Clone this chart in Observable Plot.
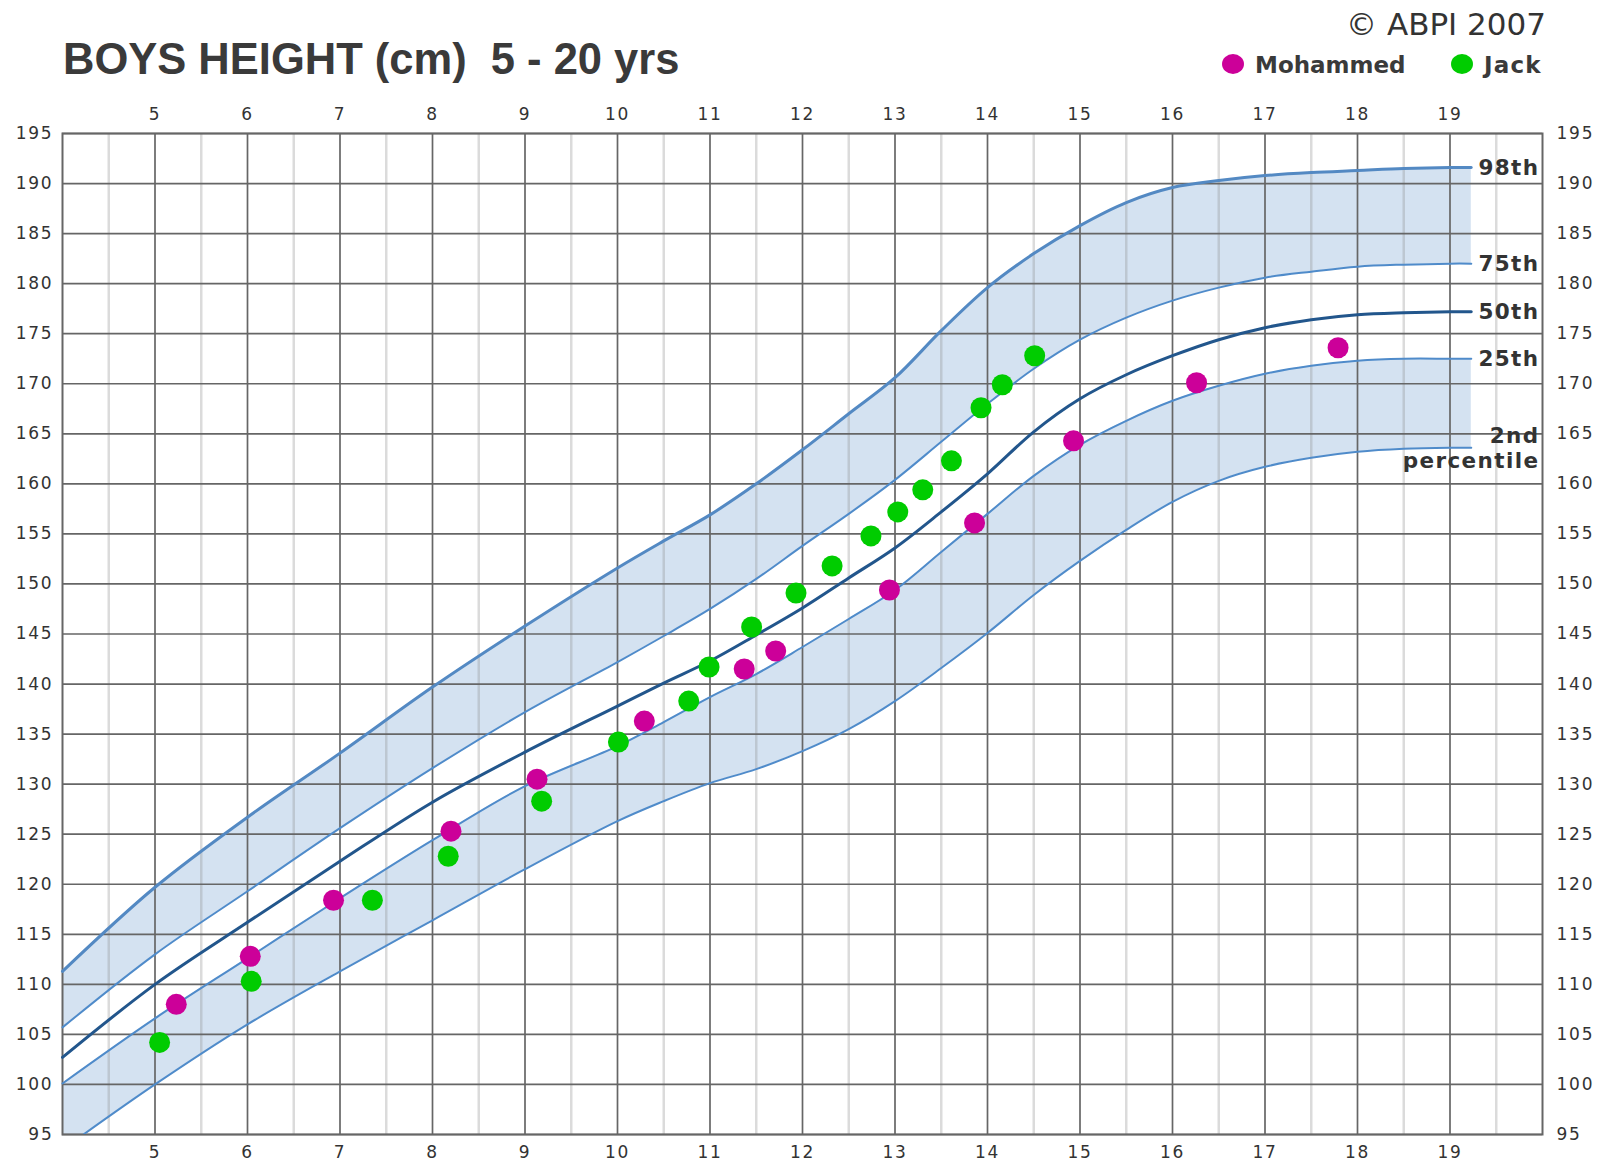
<!DOCTYPE html>
<html>
<head>
<meta charset="utf-8">
<script src="https://cdn.jsdelivr.net/npm/d3@7"></script>
<script src="https://cdn.jsdelivr.net/npm/@observablehq/plot@0.6"></script>
<style>
  html, body { margin: 0; padding: 0; background: #fff; }
  #page { position: relative; width: 1600px; height: 1164px; overflow: hidden; }
  #hdr { position: relative; width: 1600px; height: 90px; }
  #hdr .t { position: absolute; white-space: pre; }
  #chart svg [aria-label="x-axis tick label"] text,
  #chart svg [aria-label="y-axis tick label"] text { letter-spacing: 1.8px; }
</style>
</head>
<body>
<div id="page">
  <div id="hdr"></div>
  <div id="chart"></div>
</div>
<script>
// ---- Data -------------------------------------------------------------
const titleText = "BOYS HEIGHT (cm)  5 - 20 yrs";
const copyrightText = "© ABPI 2007";

// ages (years) at which the centile curves were read
const ages = [4, 5, 6, 7, 8, 9, 10, 10.5, 11, 11.5, 12, 12.5, 13, 13.5, 14, 14.5, 15, 15.5, 16, 16.5, 17, 17.5, 18, 18.5, 19, 19.23];
const p98 = [111.3, 119.7, 126.7, 133.1, 139.7, 145.8, 151.6, 154.3, 156.9, 160.0, 163.4, 167.0, 170.6, 175.3, 179.6, 183.0, 185.8, 188.1, 189.6, 190.3, 190.8, 191.1, 191.3, 191.5, 191.6, 191.6];
const p75 = [105.7, 113.0, 119.3, 125.6, 131.6, 137.2, 142.2, 144.8, 147.5, 150.5, 153.8, 157.0, 160.4, 164.2, 168.0, 171.5, 174.4, 176.6, 178.3, 179.6, 180.6, 181.2, 181.7, 181.9, 182.0, 182.0];
const p50 = [102.7, 110.0, 116.2, 122.3, 128.2, 133.2, 137.8, 140.1, 142.3, 144.9, 147.6, 150.6, 153.6, 157.2, 161.0, 165.2, 168.5, 170.9, 172.8, 174.4, 175.6, 176.4, 176.9, 177.1, 177.2, 177.2];
const p25 = [100.1, 106.6, 112.6, 118.6, 124.4, 129.8, 133.8, 136.2, 138.7, 141.0, 143.7, 146.5, 149.4, 153.2, 157.0, 160.8, 163.9, 166.3, 168.3, 169.8, 171.0, 171.8, 172.3, 172.5, 172.5, 172.5];
const p2  = [93.5, 100.0, 106.0, 111.3, 116.4, 121.5, 126.3, 128.3, 130.1, 131.5, 133.3, 135.5, 138.3, 141.6, 145.1, 148.9, 152.3, 155.4, 158.2, 160.3, 161.7, 162.6, 163.2, 163.5, 163.6, 163.6];

// children's measurements
const mohammedAge    = [5.23, 6.03, 6.93, 8.20, 9.13, 10.29, 11.37, 11.71, 12.94, 13.86, 14.93, 16.26, 17.79];
const mohammedHeight = [108.0, 112.8, 118.4, 125.3, 130.5, 136.3, 141.5, 143.3, 149.4, 156.1, 164.3, 170.1, 173.6];
const jackAge    = [5.05, 6.04, 7.35, 8.17, 9.18, 10.01, 10.77, 10.99, 11.45, 11.93, 12.32, 12.74, 13.03, 13.30, 13.61, 13.93, 14.16, 14.51];
const jackHeight = [104.2, 110.3, 118.4, 122.8, 128.3, 134.2, 138.3, 141.7, 145.7, 149.1, 151.8, 154.8, 157.2, 159.4, 162.3, 167.6, 169.9, 172.8];

const seriesNames  = ["Mohammed", "Jack"];
const seriesColors = ["#cc0099", "#00cc00"];

// axis ticks
const yearTicks   = [5, 6, 7, 8, 9, 10, 11, 12, 13, 14, 15, 16, 17, 18, 19];
const halfYears   = [4.5, 5.5, 6.5, 7.5, 8.5, 9.5, 10.5, 11.5, 12.5, 13.5, 14.5, 15.5, 16.5, 17.5, 18.5, 19.5];
const heightTicks = [95, 100, 105, 110, 115, 120, 125, 130, 135, 140, 145, 150, 155, 160, 165, 170, 175, 180, 185, 190, 195];
const centileLabels = ["98th", "75th", "50th", "25th", "2nd\npercentile"];

// ---- Build tables --------------------------------------------------------
const curves = ages.map((a, i) => ({age: a, p98: p98[i], p75: p75[i], p50: p50[i], p25: p25[i], p2: p2[i]}));
const mohammed = mohammedAge.map((a, i) => ({age: a, h: mohammedHeight[i]}));
const jack = jackAge.map((a, i) => ({age: a, h: jackHeight[i]}));
const endValues = [p98, p75, p50, p25, p2].map(s => s[s.length - 1]);
const labelData = centileLabels.map((t, i) => ({text: t, y: endValues[i]}));

// ---- Header (title, copyright, legend) ----------------------------------
const hdr = document.getElementById("hdr");
function addText(txt, css) {
  const d = document.createElement("div");
  d.className = "t";
  d.textContent = txt;
  Object.assign(d.style, css);
  hdr.appendChild(d);
  return d;
}
addText(titleText, {left: "63px", top: "37.5px", font: "bold 43.5px 'Liberation Sans', Arial, sans-serif", lineHeight: "43.5px", color: "#3a3a3a"});
addText(copyrightText, {right: "54px", top: "9px", font: "31px 'DejaVu Sans', sans-serif", lineHeight: "31px", color: "#333"});
const legendX = [1222, 1451];
seriesNames.forEach((name, i) => {
  const dot = document.createElement("div");
  Object.assign(dot.style, {position: "absolute", left: legendX[i] + "px", top: "54px", width: "22px", height: "20px", borderRadius: "50%", background: seriesColors[i]});
  hdr.appendChild(dot);
  addText(name, {left: (legendX[i] + 33) + "px", top: "53.5px", font: "bold 23px 'DejaVu Sans', sans-serif", lineHeight: "23px", color: "#3a3a3a", letterSpacing: i === 1 ? "1.2px" : "0px"});
});

// ---- Chart ---------------------------------------------------------------
const bandFill = "#d4e2f1";
const lightLine = "#4f8bca";
const crv = "catmull-rom";
const chart = Plot.plot({
  width: 1600,
  height: 1074,
  marginTop: 43,
  marginBottom: 30,
  marginLeft: 62,
  marginRight: 58,
  x: {domain: [4, 20]},
  y: {domain: [95, 195]},
  style: {fontFamily: "'DejaVu Sans', sans-serif", fontSize: "17px", color: "#333", background: "white"},
  marks: [
    Plot.areaY(curves, {x: "age", y1: "p75", y2: "p98", fill: bandFill, curve: crv}),
    Plot.areaY(curves, {x: "age", y1: "p2", y2: "p25", fill: bandFill, curve: crv, clip: true}),
    Plot.gridX(halfYears, {stroke: "#888", strokeOpacity: 0.3, strokeWidth: 2.5}),
    Plot.gridX(yearTicks, {stroke: "#666", strokeOpacity: 1, strokeWidth: 1.7}),
    Plot.gridY(heightTicks, {stroke: "#666", strokeOpacity: 1, strokeWidth: 1.7}),
    Plot.frame({stroke: "#666", strokeWidth: 2}),
    Plot.lineY(curves, {x: "age", y: "p98", stroke: "#5389c3", strokeWidth: 3, curve: crv}),
    Plot.lineY(curves, {x: "age", y: "p75", stroke: lightLine, strokeWidth: 2, curve: crv}),
    Plot.lineY(curves, {x: "age", y: "p50", stroke: "#22568c", strokeWidth: 3, curve: crv}),
    Plot.lineY(curves, {x: "age", y: "p25", stroke: lightLine, strokeWidth: 2, curve: crv}),
    Plot.lineY(curves, {x: "age", y: "p2", stroke: lightLine, strokeWidth: 2, curve: crv, clip: true}),
    Plot.dot(mohammed, {x: "age", y: "h", r: 10.5, fill: seriesColors[0]}),
    Plot.dot(jack, {x: "age", y: "h", r: 10.5, fill: seriesColors[1]}),
    Plot.text(labelData, {y: "y", text: "text", frameAnchor: "right", dx: -3, textAnchor: "end", lineAnchor: "middle", lineHeight: 1.12, fontSize: 21.5, fontWeight: "bold", fill: "#333"}),
    Plot.axisX(yearTicks, {anchor: "top", label: null, tickSize: 0, tickPadding: 19, lineAnchor: "middle", fill: "#333"}),
    Plot.axisX(yearTicks, {anchor: "bottom", label: null, tickSize: 0, tickPadding: 18, lineAnchor: "middle", fill: "#333"}),
    Plot.axisY(heightTicks, {anchor: "left", label: null, tickSize: 0, tickPadding: 9, fill: "#333"}),
    Plot.axisY(heightTicks, {anchor: "right", label: null, tickSize: 0, tickPadding: 14, fill: "#333"})
  ]
});
// widen the centile labels slightly, as in the printed chart
chart.querySelectorAll('g[aria-label="text"] text').forEach(t => { t.style.letterSpacing = "1.4px"; });
document.getElementById("chart").appendChild(chart);
</script>
</body>
</html>
